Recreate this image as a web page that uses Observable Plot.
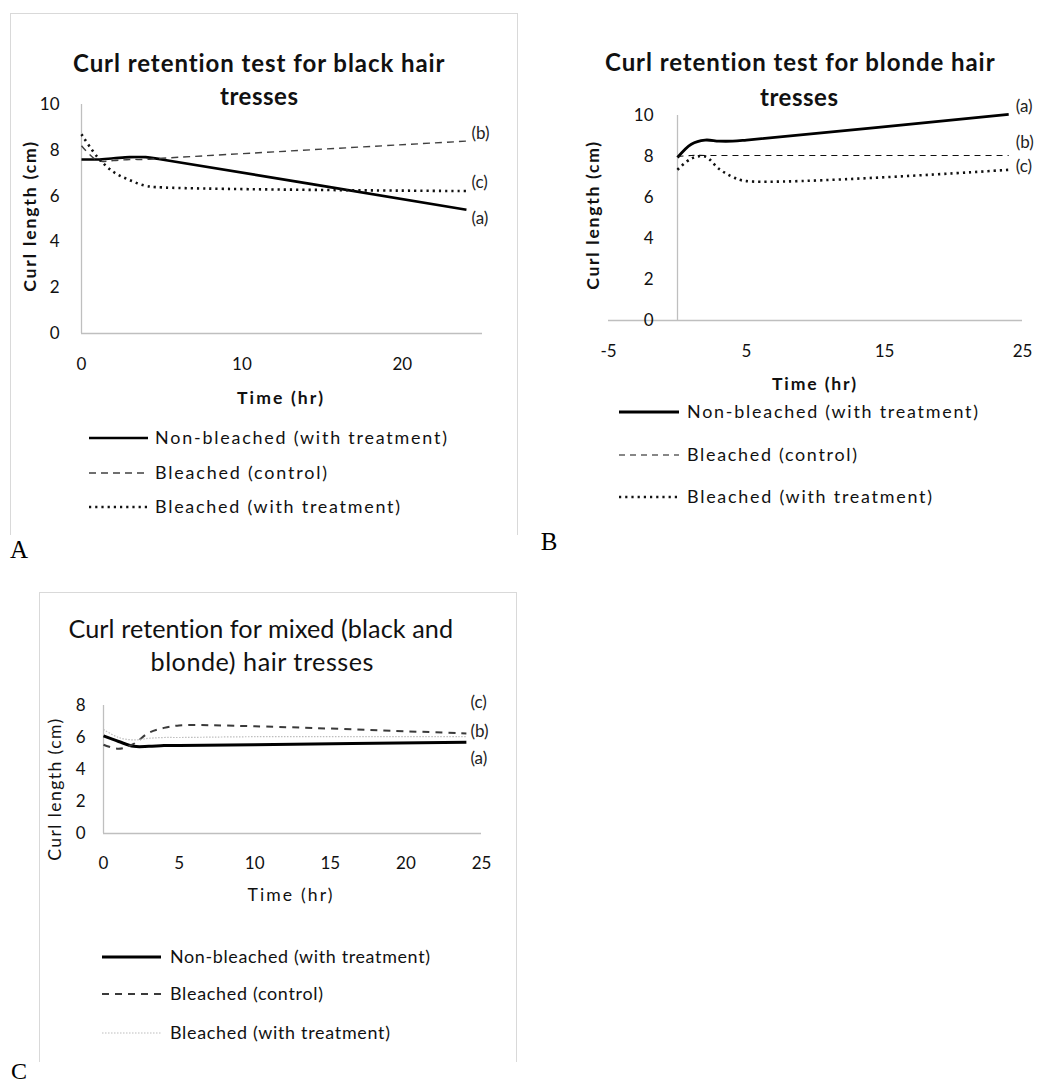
<!DOCTYPE html>
<html><head><meta charset="utf-8">
<script src="https://cdn.jsdelivr.net/npm/d3@7"></script>
<script src="https://cdn.jsdelivr.net/npm/@observablehq/plot@0.6"></script>
<style>
body{margin:0;background:#fff;width:1040px;height:1086px;position:relative;overflow:hidden;font-family:Lato,sans-serif;}
.box{position:absolute;border:1.5px solid #d9d9d9;border-bottom:none;box-sizing:border-box;}
svg.plot{position:absolute;}
</style></head>
<body>
<script>
// ---------- DATA ----------
const seriesNames = ["Non-bleached (with treatment)", "Bleached (control)", "Bleached (with treatment)"];
const seriesTags = ["(a)", "(b)", "(c)"];

// Panel A: black hair tresses
const timeA = [0, 1, 2, 3, 4, 5, 24];
const A_nonBleached = [7.6, 7.6, 7.65, 7.7, 7.7, 7.6, 5.4];
const A_control     = [8.2, 7.55, 7.55, 7.6, 7.6, 7.65, 8.4];
const A_treated     = [8.7, 7.7, 7.05, 6.7, 6.45, 6.38, 6.22];
const A_xTicks = [0, 10, 20];
const A_yTicks = [0, 2, 4, 6, 8, 10];

// Panel B: blonde hair tresses
const timeB = [0, 1, 2, 3, 4, 5, 24];
const B_nonBleached = [7.95, 8.6, 8.8, 8.75, 8.75, 8.8, 10.05];
const B_control     = [8.0, 8.05, 8.05, 8.05, 8.05, 8.05, 8.05];
const B_treated     = [7.35, 7.9, 8.0, 7.4, 7.0, 6.8, 7.35];
const B_xTicks = [-5, 5, 15, 25];
const B_yTicks = [0, 2, 4, 6, 8, 10];

// Panel C: mixed hair tresses
const timeC = [0, 1, 2, 3, 4, 5, 10, 24];
const C_nonBleached = [6.1, 5.75, 5.45, 5.45, 5.5, 5.5, 5.55, 5.7];
const C_control     = [5.55, 5.3, 5.6, 6.3, 6.6, 6.75, 6.7, 6.25];
const C_treated     = [6.5, 6.0, 5.85, 5.95, 6.0, 6.0, 6.05, 6.05];
const C_xTicks = [0, 5, 10, 15, 20, 25];
const C_yTicks = [0, 2, 4, 6, 8];

// ---------- helpers ----------
function txt(str, o) {
  const {x, y, size = 16, weight = 400, w = null, anchor = "middle", family = "Lato", rotate = false, color = "#111", maxScale = 1.2} = o;
  const d = document.createElement("div");
  d.textContent = str;
  d.style.cssText = `position:absolute;white-space:nowrap;line-height:1;font-family:${family};font-size:${size}px;font-weight:${weight};color:${color};`;
  document.body.appendChild(d);
  let r = d.getBoundingClientRect();
  if (w) {
    // grow font toward the target width, then make up any rest with spacing
    const k = Math.min(maxScale, Math.max(0.85, w / r.width));
    d.style.fontSize = (size * k) + "px";
    r = d.getBoundingClientRect();
    const ls = (w - r.width) / Math.max(1, str.length - 1);
    d.style.letterSpacing = ls + "px";
  }
  r = d.getBoundingClientRect();
  const bw = w || r.width, h = r.height;
  let left = anchor === "middle" ? x - bw / 2 : anchor === "start" ? x : x - bw;
  d.style.left = left + "px";
  d.style.top = (y - h / 2) + "px";
  if (rotate) {
    d.style.transformOrigin = `${bw / 2}px ${h / 2}px`;
    d.style.transform = "rotate(-90deg)";
  }
  return d;
}

function rows(times, vals) {
  return vals.map((vs, i) => times.map((t, j) => ({t, v: vs[j], s: seriesNames[i]})));
}

function panel(cfg) {
  const {left, top, width, height, xDomain, yDomain, xr, yr, xTicks, yTicks, data, styles, tagOffsets, xPad, yPad, yAtZero} = cfg;
  const marks = [
    Plot.ruleY([0], {stroke: "#bfbfbf", strokeWidth: 1.3}),
    Plot.ruleX([0], {stroke: "#bfbfbf", strokeWidth: 1.3}),
  ];
  data.forEach((d, i) => {
    const st = styles[i];
    marks.push(Plot.line(d, {x: "t", y: "v", curve: "catmull-rom", stroke: st.stroke, strokeWidth: st.width, strokeDasharray: st.dash, strokeLinecap: "butt"}));
  });
  data.forEach((d, i) => {
    const last = d[d.length - 1];
    marks.push(Plot.text([last], {x: "t", y: "v", text: () => seriesTags[i], dx: tagOffsets[i][0], dy: tagOffsets[i][1], textAnchor: "start", fontSize: 17, fill: "#222"}));
  });
  marks.push(Plot.axisX({ticks: xTicks, tickSize: 0, tickPadding: xPad, label: null, fontSize: 17, tickFormat: d => String(d)}));
  if (yAtZero) {
    marks.push(Plot.text(yTicks, {x: 0, y: d => d, text: d => String(d), dx: -yPad, textAnchor: "end", fontSize: 17, fill: "currentColor"}));
  } else {
    marks.push(Plot.axisY({ticks: yTicks, tickSize: 0, tickPadding: yPad, label: null, fontSize: 17}));
  }
  const svg = Plot.plot({
    width, height,
    marginLeft: xr[0] - left,
    marginRight: left + width - xr[1],
    marginTop: yr[1] - top,
    marginBottom: top + height - yr[0],
    x: {domain: xDomain},
    y: {domain: yDomain, ...(yAtZero ? {axis: null} : {})},
    style: {fontFamily: "Lato", fontSize: "17px", color: "#111", background: "transparent", overflow: "visible"},
    marks
  });
  svg.classList.add("plot");
  svg.style.left = left + "px";
  svg.style.top = top + "px";
  document.body.appendChild(svg);
}

function legend(cfg) {
  const {rowsY, x0, x1, tx, widths, styles, size = 16} = cfg;
  seriesNames.forEach((name, i) => {
    const ns = "http://www.w3.org/2000/svg";
    const s = document.createElementNS(ns, "svg");
    s.setAttribute("width", 80); s.setAttribute("height", 12);
    s.style.cssText = `position:absolute;left:${x0}px;top:${rowsY[i] - 6}px;overflow:visible`;
    const l = document.createElementNS(ns, "line");
    l.setAttribute("x1", 0); l.setAttribute("x2", x1 - x0); l.setAttribute("y1", 6); l.setAttribute("y2", 6);
    l.setAttribute("stroke", styles[i].stroke);
    l.setAttribute("stroke-width", styles[i].width);
    if (styles[i].dash) l.setAttribute("stroke-dasharray", styles[i].dash);
    s.appendChild(l);
    document.body.appendChild(s);
    txt(name, {x: tx, y: rowsY[i], size, w: widths[i], anchor: "start", maxScale: 1.12});
  });
}

// ---------- frames ----------
const boxA = document.createElement("div");
boxA.className = "box"; boxA.style.cssText += "left:10px;top:13px;width:508px;height:522px;";
document.body.appendChild(boxA);
const boxC = document.createElement("div");
boxC.className = "box"; boxC.style.cssText += "left:39px;top:592px;width:478px;height:470px;";
document.body.appendChild(boxC);

// ---------- Panel A ----------
const stylesA = [
  {stroke: "#000", width: 2.6, dash: null},
  {stroke: "#404040", width: 1.4, dash: "7,5"},
  {stroke: "#111", width: 2.6, dash: "2.2,4"}
];
panel({left: 0, top: 0, width: 520, height: 420, xDomain: [0, 25], yDomain: [0, 10],
  xr: [81, 482], yr: [333, 104], xTicks: A_xTicks, yTicks: A_yTicks,
  data: rows(timeA, [A_nonBleached, A_control, A_treated]), styles: stylesA,
  tagOffsets: [[5, 9], [5, -8], [5, -9]], xPad: 24, yPad: 22});
txt("Curl retention test for black hair", {x: 259, y: 63, size: 20, weight: 700, w: 372});
txt("tresses", {x: 259, y: 96, size: 20, weight: 700, w: 78});
txt("Curl length (cm)", {x: 30, y: 217, size: 16, weight: 700, w: 150, rotate: true, maxScale: 1.1});
txt("Time (hr)", {x: 280, y: 398, size: 16, weight: 700, w: 86, maxScale: 1.1});
legend({rowsY: [438, 473, 507], x0: 89, x1: 148, tx: 155, widths: [292, 172, 245], styles: stylesA});
txt("A", {x: 19, y: 549, size: 25, family: "Liberation Serif", color: "#000"});

// ---------- Panel B ----------
const stylesB = [
  {stroke: "#000", width: 2.8, dash: null},
  {stroke: "#111", width: 1.2, dash: "6,5"},
  {stroke: "#111", width: 2.6, dash: "2.2,4"}
];
panel({left: 560, top: 0, width: 480, height: 400, xDomain: [-5, 25], yDomain: [0, 10],
  xr: [608, 1022], yr: [320, 115], xTicks: B_xTicks, yTicks: B_yTicks,
  data: rows(timeB, [B_nonBleached, B_control, B_treated]), styles: stylesB,
  tagOffsets: [[7, -8], [7, -13], [7, -3]], xPad: 24, yPad: 24, yAtZero: true});
txt("Curl retention test for blonde hair", {x: 800, y: 62, size: 20, weight: 700, w: 390});
txt("tresses", {x: 799, y: 97, size: 20, weight: 700, w: 78});
txt("Curl length (cm)", {x: 593, y: 216, size: 16, weight: 700, w: 148, rotate: true, maxScale: 1.1});
txt("Time (hr)", {x: 814, y: 384, size: 16, weight: 700, w: 84, maxScale: 1.1});
legend({rowsY: [412, 455, 497], x0: 619, x1: 679, tx: 687, widths: [291, 170, 245], styles: stylesB});
txt("B", {x: 549, y: 541, size: 25, family: "Liberation Serif", color: "#000"});

// ---------- Panel C ----------
const stylesC = [
  {stroke: "#000", width: 3, dash: null},
  {stroke: "#3a3a3a", width: 2, dash: "7,6"},
  {stroke: "#bdbdbd", width: 1.2, dash: "1.5,1.5"}
];
panel({left: 40, top: 680, width: 480, height: 220, xDomain: [0, 25], yDomain: [0, 8],
  xr: [103, 481], yr: [833, 705], xTicks: C_xTicks, yTicks: C_yTicks,
  data: rows(timeC, [C_nonBleached, C_control, C_treated]), styles: stylesC,
  tagOffsets: [[4, 16], [4, -2], [4, -34]], xPad: 23, yPad: 18});
txt("Curl retention for mixed (black and", {x: 261, y: 629, size: 21, w: 385});
txt("blonde) hair tresses", {x: 262, y: 662, size: 21, w: 223});
txt("Curl length (cm)", {x: 55, y: 790, size: 16, w: 142, rotate: true, maxScale: 1.1});
txt("Time (hr)", {x: 290, y: 895, size: 16, w: 85, maxScale: 1.1});
legend({rowsY: [957, 994, 1033], x0: 102, x1: 161, tx: 170, widths: [260, 153, 220], styles: stylesC});
txt("C", {x: 19, y: 1071, size: 24, family: "Liberation Serif", color: "#000"});
</script>
</body></html>
